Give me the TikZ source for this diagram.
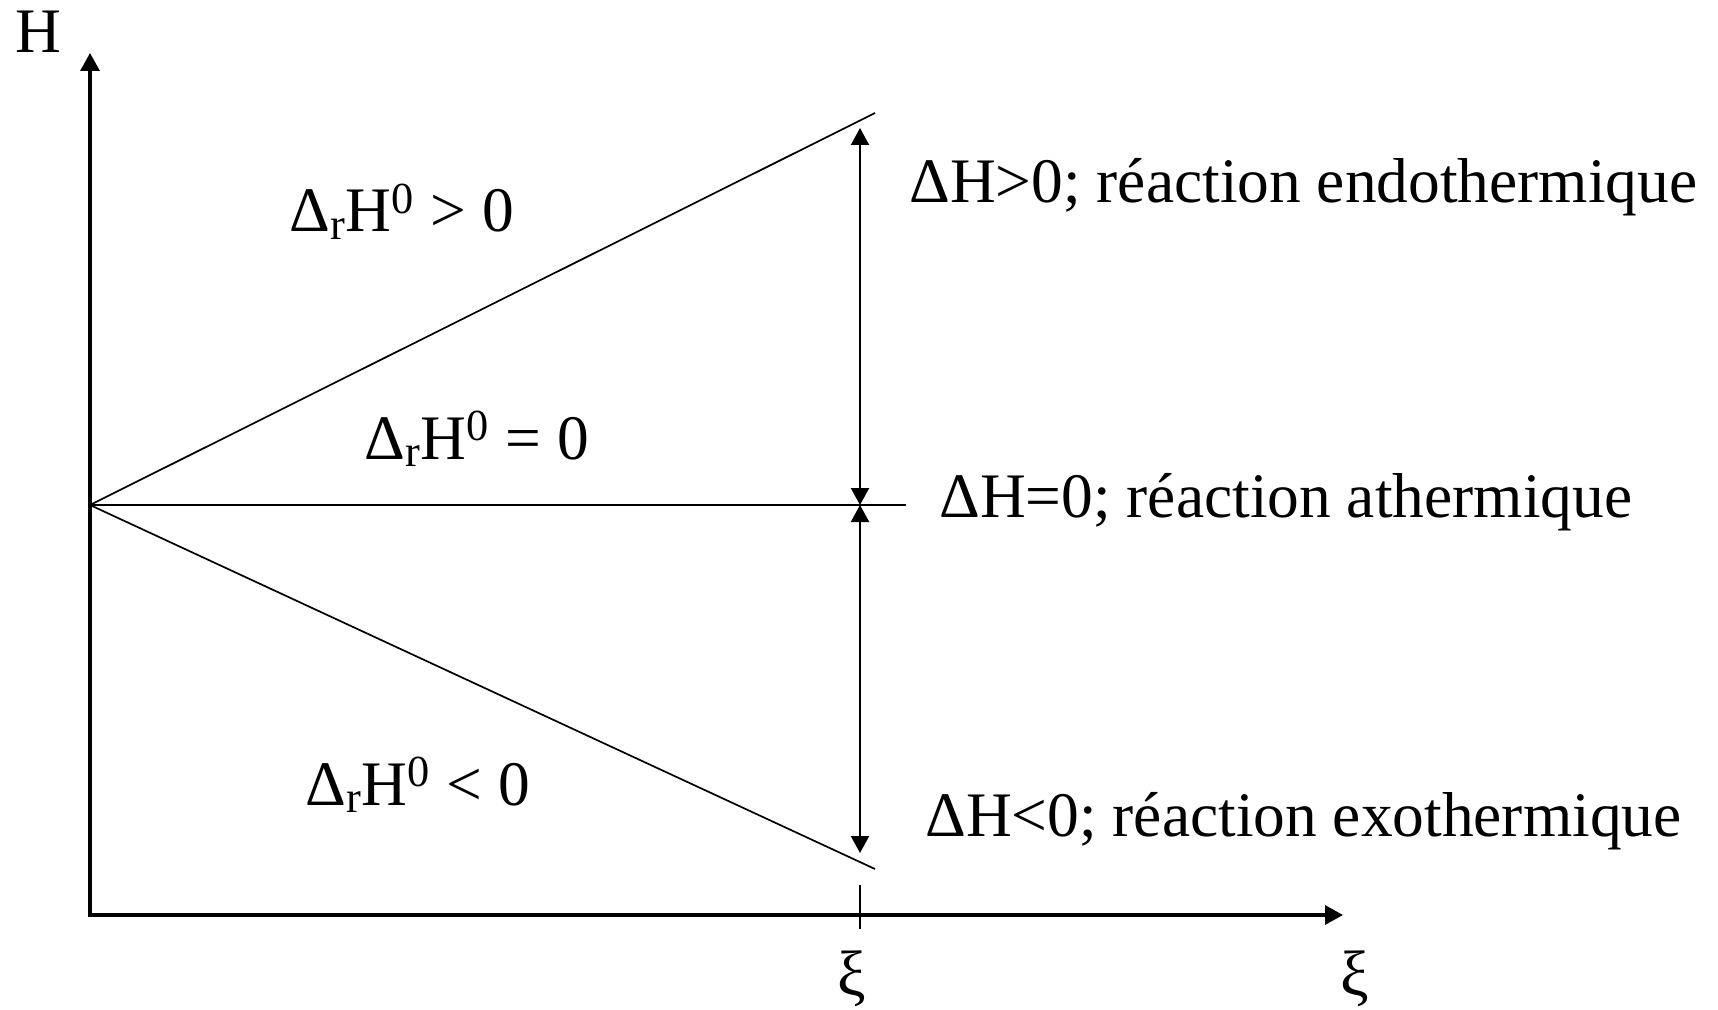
\documentclass[tikz,border=0pt]{standalone}
\usepackage{fontspec}
\setmainfont{Liberation Serif}
\usetikzlibrary{arrows.meta}
\begin{document}
\begin{tikzpicture}[x=0.5pt,y=-0.5pt,
  lbl/.style={anchor=base west, inner sep=0pt, font=\fontsize{31.7pt}{38pt}\selectfont},
  xilbl/.style={anchor=north, inner sep=0pt, font=\fontsize{32pt}{38pt}\selectfont},
  thinline/.style={line width=0.85pt},
  axis/.style={line width=1.6pt, {Triangle[length=9pt,width=9.5pt]}-{Triangle[length=9pt,width=9.5pt]}},
  dimarrow/.style={line width=1.1pt, {Triangle[length=8.5pt,width=9pt]}-{Triangle[length=8.5pt,width=9pt]}}]
\useasboundingbox (0,0) rectangle (1718,1010);
% axes
\coordinate (ytip) at (90,53);
\coordinate (corner) at (90,915);
\coordinate (xtip) at (1343,915);
\draw[axis] (ytip) -- (corner) -- (xtip);
% lines
\coordinate (O) at (90,505);
\coordinate (up) at (875,113);
\coordinate (mid) at (906,505);
\coordinate (down) at (875,869);
\draw[thinline] (O) -- (up);
\draw[thinline] (O) -- (mid);
\draw[thinline] (O) -- (down);
% dimension arrows
\coordinate (A) at (860,505);
\coordinate (Aup) at (860,128);
\coordinate (Adown) at (860,853);
\draw[dimarrow] (A) -- (Aup);
\draw[dimarrow] (A) -- (Adown);
% tick
\coordinate (tickt) at (860,885);
\coordinate (tickb) at (860,929);
\draw[line width=1pt] (tickt) -- (tickb);
% labels
\node[lbl] (H) at (15,53) {H};
\node[xilbl] (xi1) at (852,950) {ξ};
\node[xilbl] (xi2) at (1355,950) {ξ};
\node[lbl] (l1) at (289,232) {Δ\textsubscript{r}H\textsuperscript{0} > 0};
\node[lbl] (l2) at (364,459) {Δ\textsubscript{r}H\textsuperscript{0} = 0};
\node[lbl] (l3) at (305,805) {Δ\textsubscript{r}H\textsuperscript{0} < 0};
\node[lbl] (r1) at (909,203) {ΔH>0; réaction endothermique};
\node[lbl] (r2) at (939,517) {ΔH=0; réaction athermique};
\node[lbl] (r3) at (925,836) {ΔH<0; réaction exothermique};
\end{tikzpicture}
\end{document}
